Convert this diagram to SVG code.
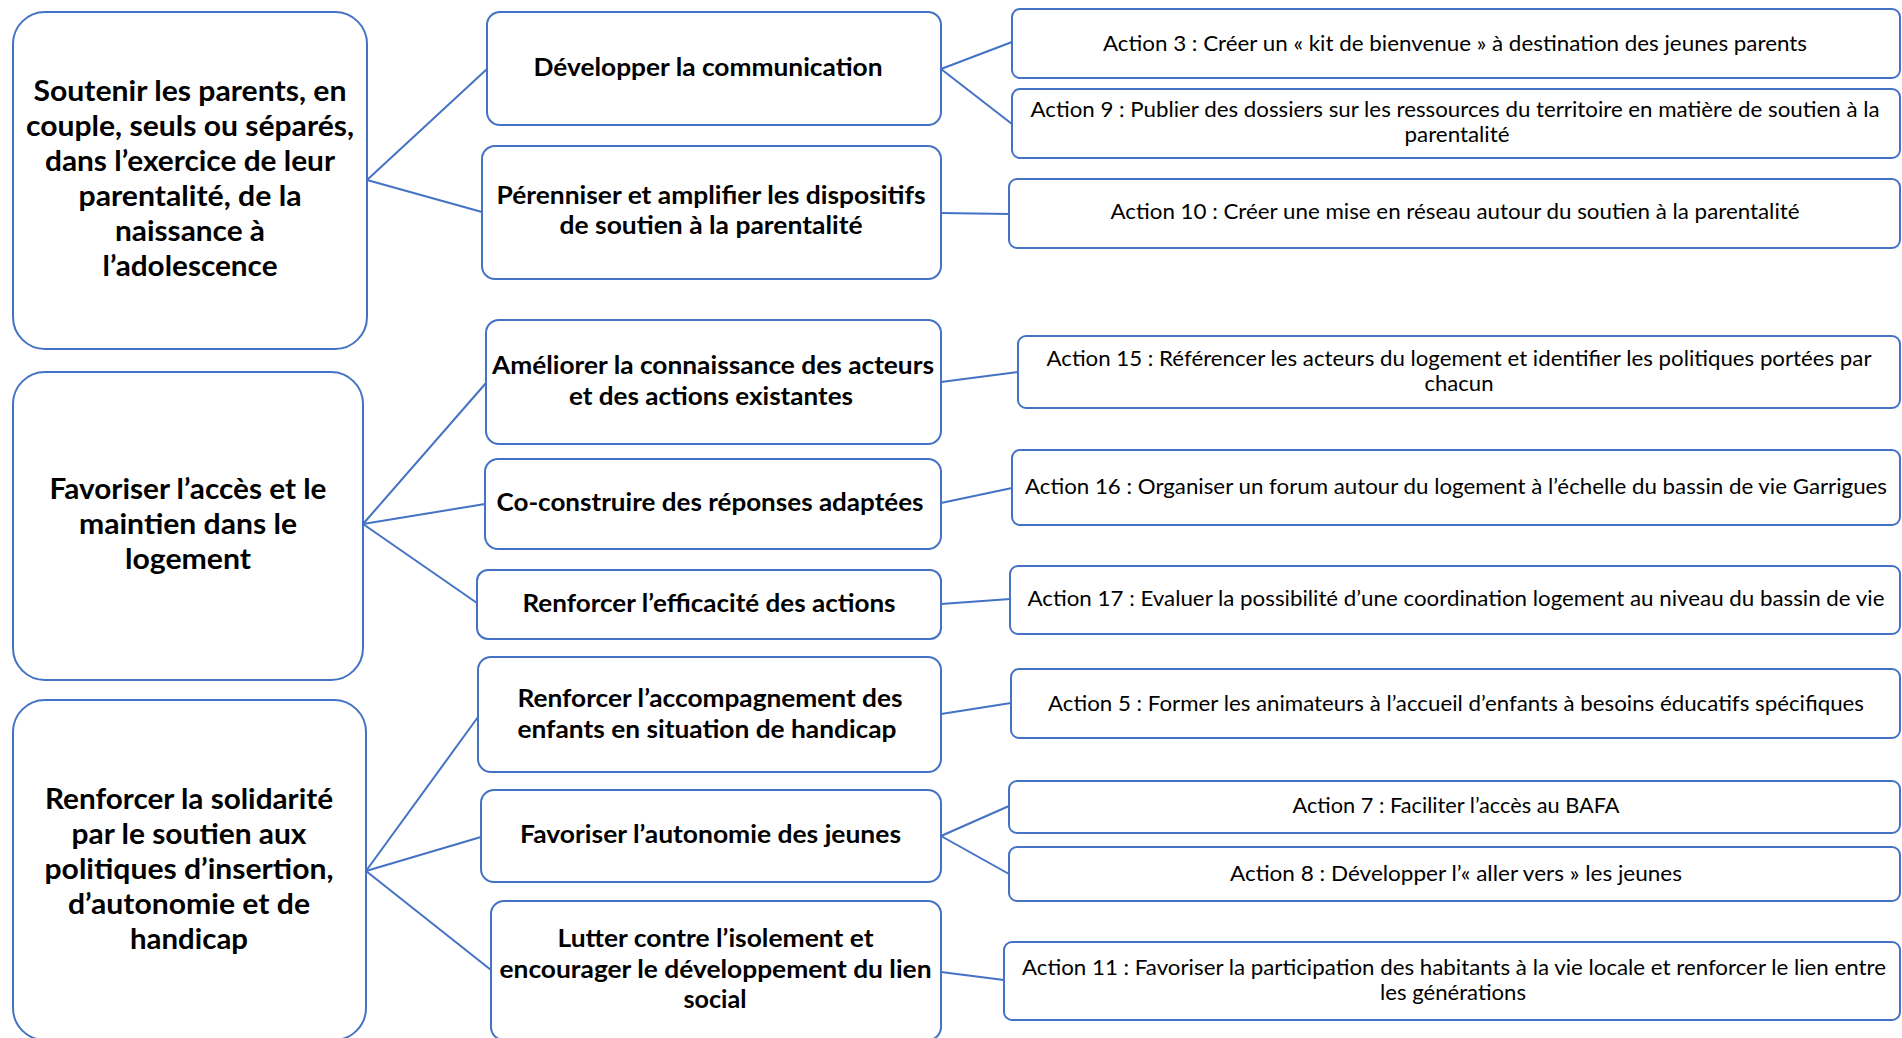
<svg xmlns="http://www.w3.org/2000/svg" width="1902" height="1038" viewBox="0 0 1902 1038">
<style>
.box{fill:#fff;stroke:#4472C4;stroke-width:2}
.con line{stroke:#4472C4;stroke-width:2;fill:none}
text{fill:#000;text-anchor:middle;font-family:Lato,"Liberation Sans",sans-serif}
.t1{font-weight:bold;font-size:28.7px}
.t2{font-weight:bold;font-size:25px}
.t3{font-size:21.5px}
</style>
<rect width="1902" height="1038" fill="#fff"/>
<g class="con" id="connectors">
<line x1="367" y1="180" x2="487" y2="69"/>
<line x1="367" y1="180" x2="482" y2="212"/>
<line x1="941" y1="69" x2="1012" y2="42"/>
<line x1="941" y1="69" x2="1012" y2="124"/>
<line x1="941" y1="213" x2="1009" y2="214"/>
<line x1="363" y1="524" x2="486" y2="383"/>
<line x1="363" y1="524" x2="485" y2="504"/>
<line x1="363" y1="524" x2="477" y2="603"/>
<line x1="941" y1="382" x2="1018" y2="372"/>
<line x1="941" y1="503" x2="1012" y2="488"/>
<line x1="941" y1="604" x2="1010" y2="599"/>
<line x1="366" y1="871" x2="478" y2="717"/>
<line x1="366" y1="871" x2="481" y2="837"/>
<line x1="366" y1="871" x2="491" y2="970"/>
<line x1="941" y1="714" x2="1011" y2="703"/>
<line x1="941" y1="836" x2="1009" y2="806"/>
<line x1="941" y1="836" x2="1009" y2="874"/>
<line x1="941" y1="972" x2="1004" y2="980"/>
</g>
<g id="obj1">
<rect class="box" x="13" y="12" width="354" height="337" rx="32"/>
<text class="t1" x="190" y="101" textLength="313" lengthAdjust="spacingAndGlyphs">Soutenir les parents, en</text>
<text class="t1" x="190" y="136" textLength="328" lengthAdjust="spacingAndGlyphs">couple, seuls ou séparés,</text>
<text class="t1" x="190" y="171" textLength="290" lengthAdjust="spacingAndGlyphs">dans l’exercice de leur</text>
<text class="t1" x="190" y="206" textLength="223" lengthAdjust="spacingAndGlyphs">parentalité, de la</text>
<text class="t1" x="190" y="241" textLength="150" lengthAdjust="spacingAndGlyphs">naissance à</text>
<text class="t1" x="190" y="276" textLength="175" lengthAdjust="spacingAndGlyphs">l’adolescence</text>
</g>
<g id="obj2">
<rect class="box" x="13" y="372" width="350" height="308" rx="32"/>
<text class="t1" x="188" y="499" textLength="277" lengthAdjust="spacingAndGlyphs">Favoriser l’accès et le</text>
<text class="t1" x="188" y="534" textLength="218" lengthAdjust="spacingAndGlyphs">maintien dans le</text>
<text class="t1" x="188" y="569" textLength="126" lengthAdjust="spacingAndGlyphs">logement</text>
</g>
<g id="obj3">
<rect class="box" x="13" y="700" width="353" height="340" rx="32"/>
<text class="t1" x="189" y="809" textLength="288" lengthAdjust="spacingAndGlyphs">Renforcer la solidarité</text>
<text class="t1" x="189" y="844" textLength="235" lengthAdjust="spacingAndGlyphs">par le soutien aux</text>
<text class="t1" x="189" y="879" textLength="289" lengthAdjust="spacingAndGlyphs">politiques d’insertion,</text>
<text class="t1" x="189" y="914" textLength="242" lengthAdjust="spacingAndGlyphs">d’autonomie et de</text>
<text class="t1" x="189" y="949" textLength="118" lengthAdjust="spacingAndGlyphs">handicap</text>
</g>
<g id="m1">
<rect class="box" x="487" y="12" width="454" height="113" rx="13"/>
<text class="t2" x="708" y="76" textLength="349" lengthAdjust="spacingAndGlyphs">Développer la communication</text>
</g>
<g id="m2">
<rect class="box" x="482" y="146" width="459" height="133" rx="13"/>
<text class="t2" x="711" y="204" textLength="429" lengthAdjust="spacingAndGlyphs">Pérenniser et amplifier les dispositifs</text>
<text class="t2" x="711" y="234" textLength="303" lengthAdjust="spacingAndGlyphs">de soutien à la parentalité</text>
</g>
<g id="m3">
<rect class="box" x="486" y="320" width="455" height="124" rx="13"/>
<text class="t2" x="713" y="374" textLength="442" lengthAdjust="spacingAndGlyphs">Améliorer la connaissance des acteurs</text>
<text class="t2" x="711" y="405" textLength="284" lengthAdjust="spacingAndGlyphs">et des actions existantes</text>
</g>
<g id="m4">
<rect class="box" x="485" y="459" width="456" height="90" rx="13"/>
<text class="t2" x="710" y="511" textLength="427" lengthAdjust="spacingAndGlyphs">Co-construire des réponses adaptées</text>
</g>
<g id="m5">
<rect class="box" x="477" y="570" width="464" height="69" rx="11"/>
<text class="t2" x="709" y="612" textLength="373" lengthAdjust="spacingAndGlyphs">Renforcer l’efficacité des actions</text>
</g>
<g id="m6">
<rect class="box" x="478" y="657" width="463" height="115" rx="13"/>
<text class="t2" x="710" y="707" textLength="385" lengthAdjust="spacingAndGlyphs">Renforcer l’accompagnement des</text>
<text class="t2" x="707" y="738" textLength="379" lengthAdjust="spacingAndGlyphs">enfants en situation de handicap</text>
</g>
<g id="m7">
<rect class="box" x="481" y="790" width="460" height="92" rx="13"/>
<text class="t2" x="710.5" y="843" textLength="381" lengthAdjust="spacingAndGlyphs">Favoriser l’autonomie des jeunes</text>
</g>
<g id="m8">
<rect class="box" x="491" y="901" width="450" height="139" rx="13"/>
<text class="t2" x="715.5" y="947" textLength="316" lengthAdjust="spacingAndGlyphs">Lutter contre l’isolement et</text>
<text class="t2" x="715.5" y="978" textLength="432" lengthAdjust="spacingAndGlyphs">encourager le développement du lien</text>
<text class="t2" x="715" y="1008" textLength="63" lengthAdjust="spacingAndGlyphs">social</text>
</g>
<g id="a3">
<rect class="box" x="1012" y="9" width="888" height="69" rx="8"/>
<text class="t3" x="1455" y="51" textLength="704" lengthAdjust="spacingAndGlyphs">Action 3 : Créer un « kit de bienvenue » à destination des jeunes parents</text>
</g>
<g id="a9">
<rect class="box" x="1012" y="89" width="888" height="69" rx="8"/>
<text class="t3" x="1455" y="117" textLength="849" lengthAdjust="spacingAndGlyphs">Action 9 : Publier des dossiers sur les ressources du territoire en matière de soutien à la</text>
<text class="t3" x="1457" y="142" textLength="105" lengthAdjust="spacingAndGlyphs">parentalité</text>
</g>
<g id="a10">
<rect class="box" x="1009" y="179" width="891" height="69" rx="8"/>
<text class="t3" x="1455" y="219" textLength="689" lengthAdjust="spacingAndGlyphs">Action 10 : Créer une mise en réseau autour du soutien à la parentalité</text>
</g>
<g id="a15">
<rect class="box" x="1018" y="336" width="882" height="72" rx="8"/>
<text class="t3" x="1459" y="366" textLength="825" lengthAdjust="spacingAndGlyphs">Action 15 : Référencer les acteurs du logement et identifier les politiques portées par</text>
<text class="t3" x="1459" y="391" textLength="69" lengthAdjust="spacingAndGlyphs">chacun</text>
</g>
<g id="a16">
<rect class="box" x="1012" y="450" width="888" height="75" rx="8"/>
<text class="t3" x="1456" y="494" textLength="862" lengthAdjust="spacingAndGlyphs">Action 16 : Organiser un forum autour du logement à l’échelle du bassin de vie Garrigues</text>
</g>
<g id="a17">
<rect class="box" x="1010" y="566" width="890" height="68" rx="8"/>
<text class="t3" x="1456" y="606" textLength="857" lengthAdjust="spacingAndGlyphs">Action 17 : Evaluer la possibilité d’une coordination logement au niveau du bassin de vie</text>
</g>
<g id="a5">
<rect class="box" x="1011" y="669" width="889" height="69" rx="8"/>
<text class="t3" x="1456" y="711" textLength="816" lengthAdjust="spacingAndGlyphs">Action 5 : Former les animateurs à l’accueil d’enfants à besoins éducatifs spécifiques</text>
</g>
<g id="a7">
<rect class="box" x="1009" y="781" width="891" height="52" rx="8"/>
<text class="t3" x="1456" y="813" textLength="327" lengthAdjust="spacingAndGlyphs">Action 7 : Faciliter l’accès au BAFA</text>
</g>
<g id="a8">
<rect class="box" x="1009" y="847" width="891" height="54" rx="8"/>
<text class="t3" x="1456" y="881" textLength="452" lengthAdjust="spacingAndGlyphs">Action 8 : Développer l’« aller vers » les jeunes</text>
</g>
<g id="a11">
<rect class="box" x="1004" y="942" width="896" height="78" rx="8"/>
<text class="t3" x="1454" y="975" textLength="864" lengthAdjust="spacingAndGlyphs">Action 11 : Favoriser la participation des habitants à la vie locale et renforcer le lien entre</text>
<text class="t3" x="1453" y="1000" textLength="146" lengthAdjust="spacingAndGlyphs">les générations</text>
</g>
</svg>
